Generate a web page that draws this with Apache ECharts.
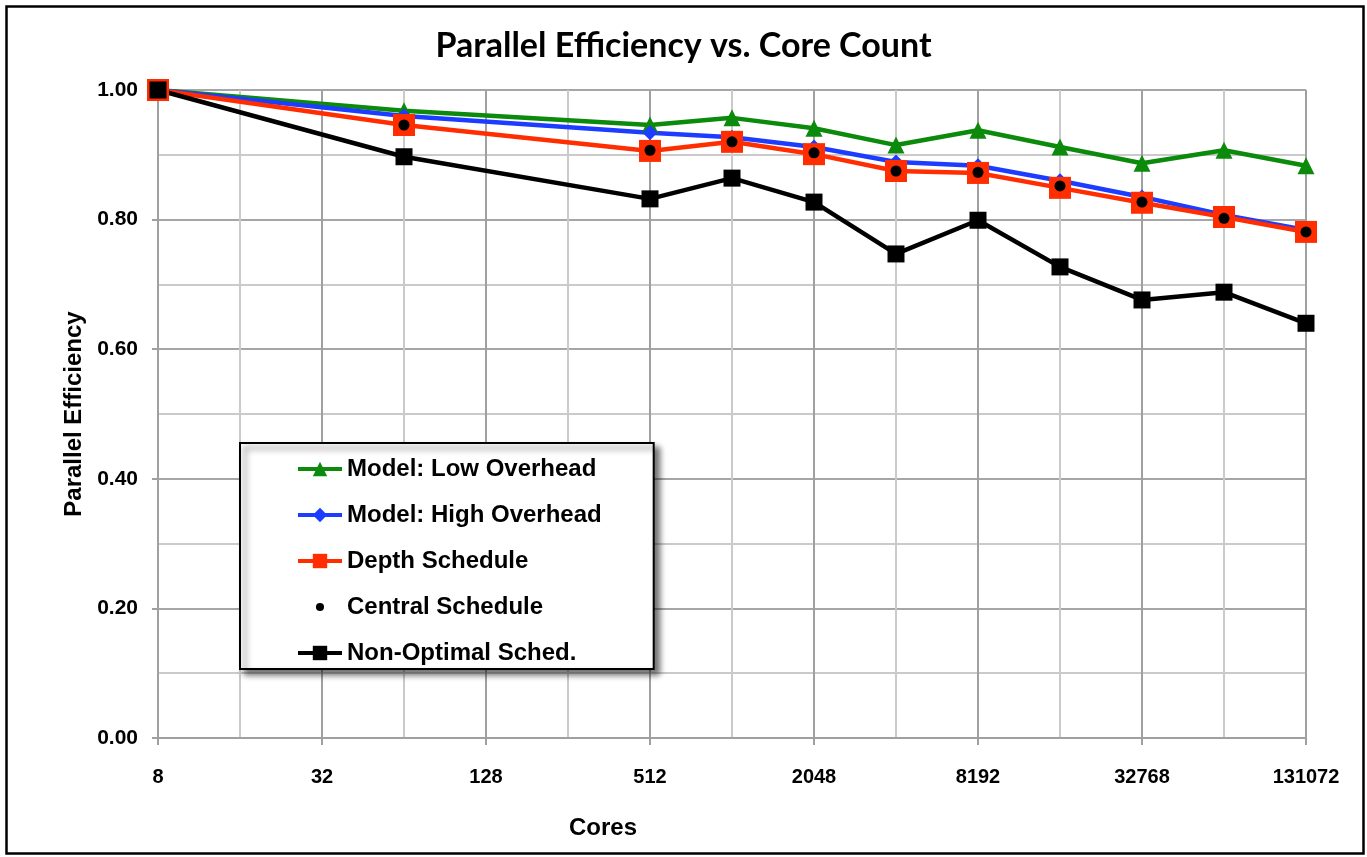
<!DOCTYPE html>
<html>
<head>
<meta charset="utf-8">
<title>Parallel Efficiency vs. Core Count</title>
<script src="https://cdn.jsdelivr.net/npm/echarts@6/dist/echarts.min.js"></script>
<style>
  html, body { margin: 0; padding: 0; background: #fff; }
  #chart { width: 1367px; height: 857px; }
</style>
</head>
<body>
<div id="chart"></div>
<script>
// cores on the x axis (log base 2)
var cores = [8, 64, 512, 1024, 2048, 4096, 8192, 16384, 32768, 65536, 131072];

// parallel efficiency
var lowOverhead  = [1.00, 0.968, 0.946, 0.957, 0.941, 0.915, 0.938, 0.912, 0.887, 0.907, 0.883];
var highOverhead = [1.00, 0.960, 0.934, 0.927, 0.912, 0.889, 0.883, 0.860, 0.835, 0.807, 0.784];
var depthSched   = [1.00, 0.946, 0.906, 0.920, 0.901, 0.875, 0.872, 0.849, 0.826, 0.804, 0.781];
var centralSched = [1.00, 0.946, 0.907, 0.920, 0.903, 0.875, 0.873, 0.852, 0.827, 0.802, 0.781];
var nonOptimal   = [1.00, 0.897, 0.832, 0.864, 0.827, 0.747, 0.799, 0.727, 0.676, 0.688, 0.640];

var seriesNames = ['Model: Low Overhead', 'Model: High Overhead', 'Depth Schedule', 'Central Schedule', 'Non-Optimal Sched.'];

var arial = '"Liberation Sans", Arial, sans-serif';

function pairs(vals) {
  return cores.map(function (c, i) { return [c, vals[i]]; });
}

var myChart = echarts.init(document.getElementById('chart'));

var xCommon = {
  type: 'log',
  logBase: 2,
  min: 8,
  max: 131072,
  gridIndex: 0
};

var option = {
  animation: false,
  title: {
    text: 'Parallel Efficiency vs. Core Count',
    left: 'center',
    top: 24,
    textStyle: {
      fontFamily: 'Lato, "Open Sans", sans-serif',
      fontWeight: 'bold',
      fontSize: 34,
      color: '#000'
    }
  },
  legend: {
    orient: 'vertical',
    left: 240,
    top: 443,
    padding: [14, 52, 4, 56],
    itemGap: 22,
    itemWidth: 44,
    itemHeight: 18,
    backgroundColor: '#fff',
    borderColor: '#000',
    borderWidth: 2,
    borderRadius: 0,
    shadowColor: 'rgba(0,0,0,0.55)',
    shadowBlur: 6,
    shadowOffsetX: 5,
    shadowOffsetY: 5,
    lineStyle: { width: 4 },
    textStyle: {
      fontFamily: arial,
      fontWeight: 'bold',
      fontSize: 24,
      lineHeight: 24,
      color: '#000'
    },
    data: [
      seriesNames[0],
      seriesNames[1],
      seriesNames[2],
      { name: seriesNames[3], icon: 'path://M0,0M20,20M14.5,10A4.5,4.5,0,1,1,5.5,10A4.5,4.5,0,1,1,14.5,10Z' },
      seriesNames[4]
    ]
  },
  grid: {
    left: 158,
    right: 61,
    top: 90,
    bottom: 119
  },
  xAxis: [
    Object.assign({}, xCommon, {
      // light lines at every power of two
      interval: 1,
      axisLine: { show: false },
      axisTick: { show: false },
      axisLabel: { show: false },
      splitLine: { show: true, lineStyle: { color: '#cacaca', width: 2 } }
    }),
    Object.assign({}, xCommon, {
      interval: 2,
      position: 'bottom',
      name: 'Cores',
      nameLocation: 'middle',
      nameGap: 78,
      nameTextStyle: {
        fontFamily: arial,
        fontWeight: 'bold',
        fontSize: 24,
        color: '#000',
        padding: [0, 258, 0, 0]
      },
      axisLine: { show: true, lineStyle: { color: '#a0a0a0', width: 2 } },
      axisTick: { show: true, length: 7, lineStyle: { color: '#a0a0a0', width: 2 } },
      axisLabel: {
        margin: 29,
        fontFamily: arial,
        fontWeight: 'bold',
        fontSize: 20,
        color: '#000',
        formatter: function (v) { return String(Math.round(v)); }
      },
      splitLine: { show: true, lineStyle: { color: '#a0a0a0', width: 2 } }
    })
  ],
  yAxis: {
    type: 'value',
    min: 0,
    max: 1,
    interval: 0.2,
    name: 'Parallel Efficiency',
    nameLocation: 'middle',
    nameRotate: 90,
    nameGap: 70,
    nameTextStyle: {
      fontFamily: arial,
      fontWeight: 'bold',
      fontSize: 24,
      color: '#000'
    },
    axisLine: { show: true, lineStyle: { color: '#a0a0a0', width: 2 } },
    axisTick: { show: true, length: 6, lineStyle: { color: '#a0a0a0', width: 2 } },
    axisLabel: {
      margin: 20,
      fontFamily: arial,
      fontWeight: 'bold',
      fontSize: 21,
      color: '#000',
      formatter: function (v) { return v.toFixed(2); }
    },
    splitLine: { show: true, lineStyle: { color: '#a6a6a6', width: 2 } },
    minorTick: { show: false, splitNumber: 2 },
    minorSplitLine: { show: true, lineStyle: { color: '#cacaca', width: 2 } }
  },
  series: [
    {
      name: seriesNames[0],
      type: 'line',
      xAxisIndex: 1,
      data: pairs(lowOverhead),
      symbol: 'triangle',
      symbolSize: 17,
      color: '#0b8a0b',
      lineStyle: { width: 4.5 }
    },
    {
      name: seriesNames[1],
      type: 'line',
      xAxisIndex: 1,
      data: pairs(highOverhead),
      symbol: 'diamond',
      symbolSize: 15,
      color: '#1c3cff',
      lineStyle: { width: 4.5 }
    },
    {
      name: seriesNames[2],
      type: 'line',
      xAxisIndex: 1,
      data: pairs(depthSched),
      symbol: 'rect',
      symbolSize: 22,
      color: '#ff2d00',
      lineStyle: { width: 4.5 }
    },
    {
      name: seriesNames[3],
      type: 'line',
      xAxisIndex: 1,
      data: pairs(centralSched),
      symbol: 'circle',
      symbolSize: 11,
      color: '#000',
      lineStyle: { width: 0, opacity: 0 }
    },
    {
      name: seriesNames[4],
      type: 'line',
      xAxisIndex: 1,
      data: pairs(nonOptimal),
      symbol: 'rect',
      symbolSize: 17,
      color: '#000',
      lineStyle: { width: 4.5 }
    }
  ],
  graphic: [
    {
      type: 'rect',
      left: 4,
      top: 4,
      shape: { width: 1357, height: 847 },
      style: { fill: 'none', stroke: '#000', lineWidth: 2.5 },
      silent: true
    }
  ]
};

myChart.setOption(option);
</script>
</body>
</html>
